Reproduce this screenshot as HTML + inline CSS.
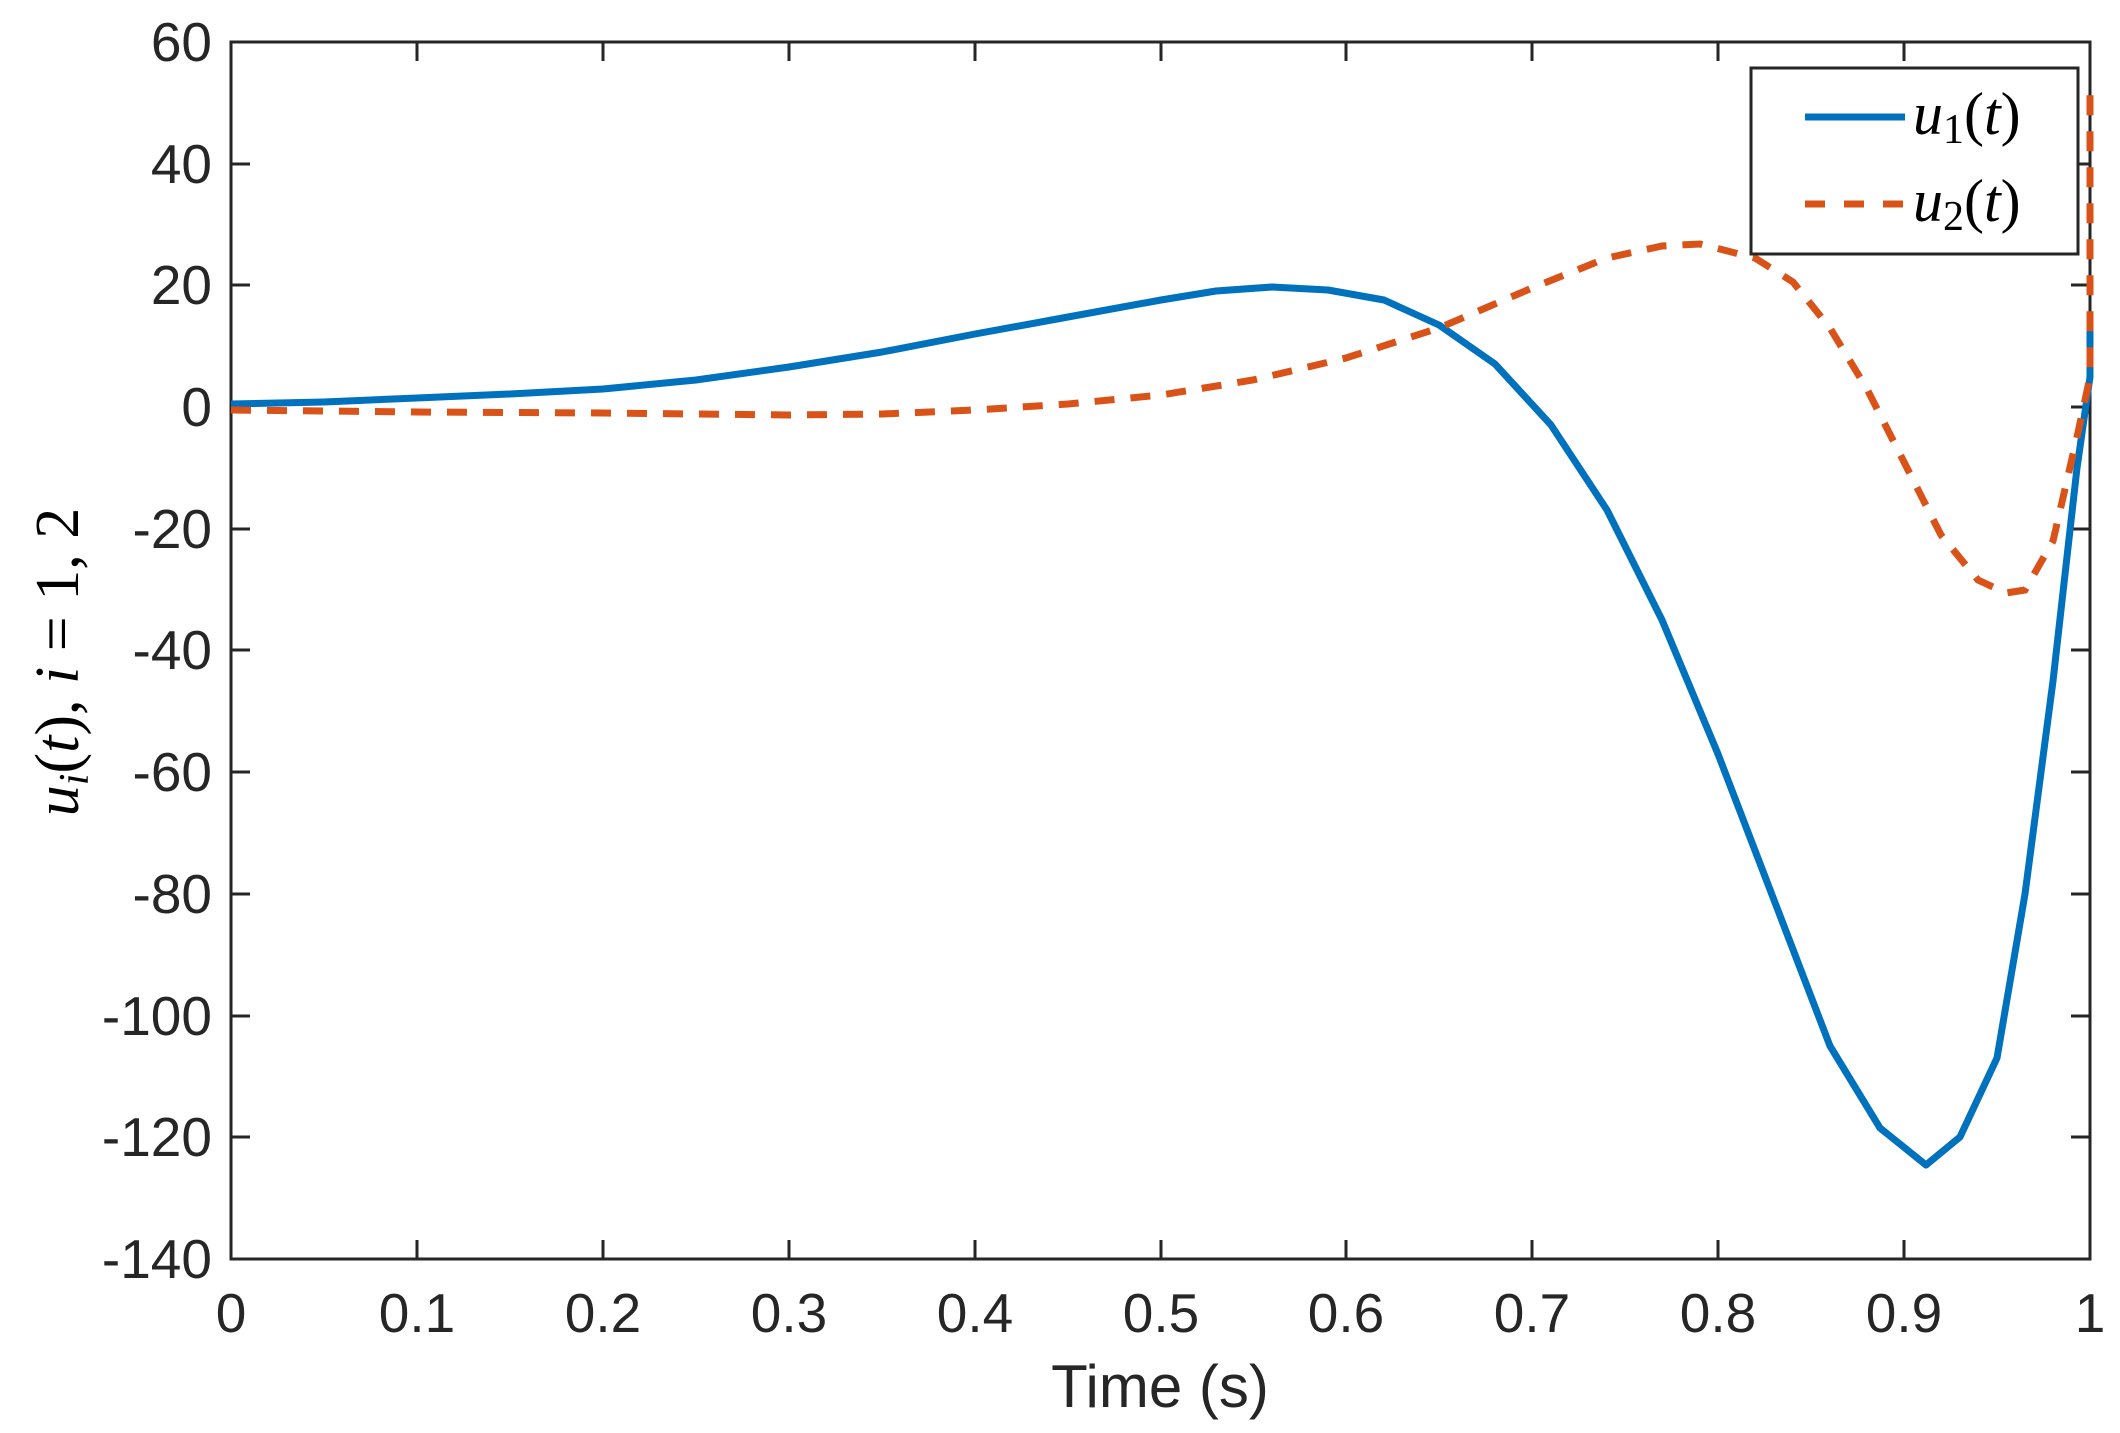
<!DOCTYPE html>
<html><head><meta charset="utf-8"><style>
html,body{margin:0;padding:0;background:#fff;}
svg{display:block;}
text{font-family:"Liberation Sans",Arial,sans-serif;fill:#262626;}
.m{font-family:"Liberation Serif","DejaVu Serif",serif;fill:#000;}
</style></head><body>
<svg width="2120" height="1433" viewBox="0 0 2120 1433" xmlns="http://www.w3.org/2000/svg">
<rect width="2120" height="1433" fill="#fff"/>
<g stroke="#262626" stroke-width="3" fill="none">
<rect x="231" y="42" width="1859" height="1217"/>
<path d="M417 1259v-19M603 1259v-19M789 1259v-19M975 1259v-19M1161 1259v-19M1346 1259v-19M1532 1259v-19M1718 1259v-19M1904 1259v-19
M417 42v19M603 42v19M789 42v19M975 42v19M1161 42v19M1346 42v19M1532 42v19M1718 42v19M1904 42v19
M231 164h19M231 285h19M231 407h19M231 529h19M231 650h19M231 772h19M231 894h19M231 1016h19M231 1137h19
M2090 164h-19M2090 285h-19M2090 407h-19M2090 529h-19M2090 650h-19M2090 772h-19M2090 894h-19M2090 1016h-19M2090 1137h-19"/>
</g>
<g font-size="55" text-anchor="end">
<text x="212" y="61">60</text><text x="212" y="183">40</text><text x="212" y="304">20</text><text x="212" y="426">0</text>
<text x="212" y="548">-20</text><text x="212" y="669">-40</text><text x="212" y="791">-60</text><text x="212" y="913">-80</text>
<text x="212" y="1035">-100</text><text x="212" y="1156">-120</text><text x="212" y="1278">-140</text>
</g>
<g font-size="55" text-anchor="middle">
<text x="231" y="1332">0</text><text x="417" y="1332">0.1</text><text x="603" y="1332">0.2</text><text x="789" y="1332">0.3</text>
<text x="975" y="1332">0.4</text><text x="1161" y="1332">0.5</text><text x="1346" y="1332">0.6</text><text x="1532" y="1332">0.7</text>
<text x="1718" y="1332">0.8</text><text x="1904" y="1332">0.9</text><text x="2090" y="1332">1</text>
</g>
<text x="1160" y="1407" font-size="60" text-anchor="middle">Time (s)</text>
<text class="m" transform="translate(78,662) rotate(-90)" font-size="62" text-anchor="middle"><tspan font-style="italic">u</tspan><tspan font-style="italic" font-size="42" dy="10">i</tspan><tspan dy="-10">(</tspan><tspan font-style="italic">t</tspan><tspan>),</tspan><tspan font-style="italic"> i</tspan><tspan> = 1, 2</tspan></text>
<polyline fill="none" stroke="#0072BD" stroke-width="7" stroke-linejoin="round" points="231,404 324,402 417,398 510,394 603,389 696,380 789,367 882,352 975,334 1068,317 1161,300 1216,291 1272,287 1328,290 1384,300 1439,325 1495,364 1551,425 1607,510 1662,620 1718,754 1774,900 1830,1046 1880,1128 1926,1165 1960,1137 1997,1058 2025,894 2053,681 2077,468 2090,377 2090,316"/>
<polyline fill="none" stroke="#D95319" stroke-width="7" stroke-dasharray="20,16" points="231,410 417,412 603,413 789,415 882,414 975,410 1068,404 1161,395 1253,380 1346,358 1439,328 1532,288 1607,258 1662,246 1700,244 1755,258 1793,282 1830,328 1867,389 1904,462 1941,535 1978,580 2006,593 2025,590 2053,541 2077,437 2090,377 2090,91"/>
<rect x="1751" y="68" width="327" height="186" fill="#fff" stroke="#262626" stroke-width="3"/>
<line x1="1805" y1="117" x2="1905" y2="117" stroke="#0072BD" stroke-width="7"/>
<line x1="1805" y1="204" x2="1905" y2="204" stroke="#D95319" stroke-width="7" stroke-dasharray="20,19"/>
<text class="m" x="1913" y="134" font-size="60"><tspan font-style="italic">u</tspan><tspan font-size="42" dy="9">1</tspan><tspan dy="-9">(</tspan><tspan font-style="italic">t</tspan>)</text>
<text class="m" x="1913" y="221" font-size="60"><tspan font-style="italic">u</tspan><tspan font-size="42" dy="9">2</tspan><tspan dy="-9">(</tspan><tspan font-style="italic">t</tspan>)</text>
</svg>
</body></html>
